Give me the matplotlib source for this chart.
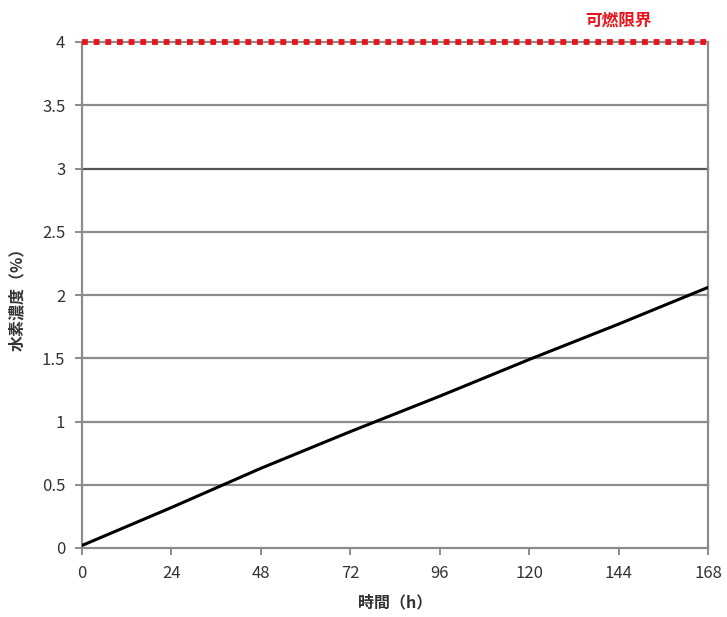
import matplotlib
matplotlib.use("Agg")
import matplotlib.pyplot as plt

plt.rcParams['font.family'] = ['Noto Sans CJK JP', 'DejaVu Sans']

# data
hours = [0, 24, 48, 72, 96, 120, 144, 168]
h2_conc = [0.02, 0.32, 0.63, 0.92, 1.20, 1.49, 1.77, 2.06]
limit = 4.0
xticks = [0, 24, 48, 72, 96, 120, 144, 168]
yticks = [0, 0.5, 1, 1.5, 2, 2.5, 3, 3.5, 4]
ytick_labels = ['0', '0.5', '1', '1.5', '2', '2.5', '3', '3.5', '4']

fig = plt.figure(figsize=(7.27, 6.17), dpi=100)
ax = fig.add_axes([82/727, 1 - 548/617, 626/727, 506/617])

grid_col = '#8c8c8c'
for y in yticks[1:]:
    c = '#555555' if y == 3 else grid_col
    ax.axhline(y, color=c, lw=1.6, zorder=1, clip_on=False)

ax.plot(hours, h2_conc, color='black', lw=2.2, zorder=3)
ax.plot([0, 168], [limit, limit], color='#e8141b', lw=4.2,
        linestyle=(0, (1.0, 1.0)), dash_capstyle='butt', zorder=4, clip_on=False)

ax.set_xlim(0, 168)
ax.set_ylim(0, 4)
ax.set_xticks(xticks)
ax.set_yticks(yticks)
ax.set_yticklabels(ytick_labels)

for s in ['left', 'bottom', 'right']:
    ax.spines[s].set_color(grid_col)
    ax.spines[s].set_linewidth(1.6)
ax.spines['top'].set_visible(False)
ax.tick_params(axis='both', direction='out', length=5, width=1.4,
               color=grid_col, labelsize=12, labelcolor='#333333', pad=7)

ax.set_xlabel('時間（h）', fontsize=11.5, fontweight='bold', color='#333333', labelpad=9)
ax.set_ylabel('水素濃度（%）', fontsize=11.5, fontweight='bold', color='#333333', labelpad=12)

ax.text(0.91, 1.025, '可燃限界', transform=ax.transAxes, ha='right', va='bottom',
        color='#e8141b', fontsize=12, fontweight='bold')

fig.savefig('out.png', dpi=100)
